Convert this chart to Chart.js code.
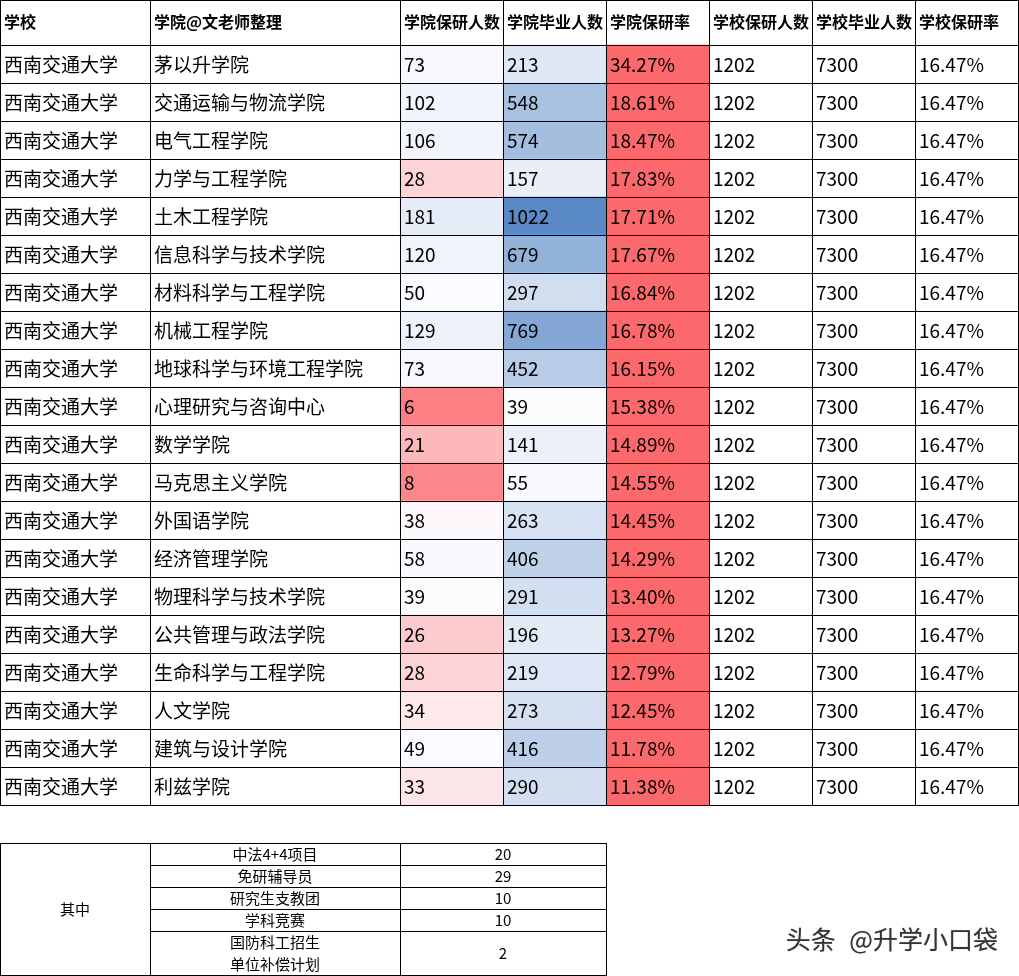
<!DOCTYPE html>
<html>
<head>
<meta charset="utf-8">
<style>
  html, body { margin: 0; padding: 0; background: #fff; }
  canvas { display: block; }
</style>
<script src="https://cdn.jsdelivr.net/npm/chart.js@4"></script>
</head>
<body>
<canvas id="myChart" width="1019" height="976"></canvas>
<script>
// table content
var headers = ['学校', '学院@文老师整理', '学院保研人数', '学院毕业人数', '学院保研率', '学校保研人数', '学校毕业人数', '学校保研率'];
var schoolName = '西南交通大学';
var colleges = ['茅以升学院', '交通运输与物流学院', '电气工程学院', '力学与工程学院', '土木工程学院', '信息科学与技术学院', '材料科学与工程学院', '机械工程学院', '地球科学与环境工程学院', '心理研究与咨询中心', '数学学院', '马克思主义学院', '外国语学院', '经济管理学院', '物理科学与技术学院', '公共管理与政法学院', '生命科学与工程学院', '人文学院', '建筑与设计学院', '利兹学院'];
var recommended = [73, 102, 106, 28, 181, 120, 50, 129, 73, 6, 21, 8, 38, 58, 39, 26, 28, 34, 49, 33];
var graduates = [213, 548, 574, 157, 1022, 679, 297, 769, 452, 39, 141, 55, 263, 406, 291, 196, 219, 273, 416, 290];
var rates = [34.27, 18.61, 18.47, 17.83, 17.71, 17.67, 16.84, 16.78, 16.15, 15.38, 14.89, 14.55, 14.45, 14.29, 13.40, 13.27, 12.79, 12.45, 11.78, 11.38];
var schoolRecommended = 1202;
var schoolGraduates = 7300;
var schoolRate = 16.47;

var extraTitle = '其中';
var extraNames = ['中法4+4项目', '免研辅导员', '研究生支教团', '学科竞赛', ['国防科工招生', '单位补偿计划']];
var extraValues = [20, 29, 10, 10, 2];

// layout of the sheet, in page units
var colEdges = [0, 150, 400, 503, 606, 709, 812, 915, 1018];
var rowEdges = [0, 45];
for (var r = 1; r <= 20; r++) rowEdges.push(45 + 38 * r);
var extraEdges = [843, 865, 887, 909, 931, 975];

var cnFont = '"Noto Sans CJK SC", "Noto Sans", sans-serif';

// the sheet's 3 colour scale: red - near white - blue
function cellColor(v) {
  var mid = 39, top = 1022, c, t;
  var white = [252, 252, 255];
  if (v < mid) { c = [252, 105, 108]; t = (mid - v) / mid; }
  else { c = [90, 138, 198]; t = (v - mid) / (top - mid); }
  return 'rgb(' + c.map(function (k, n) { return Math.round(white[n] + (k - white[n]) * t); }).join(',') + ')';
}

function rowCenter(i) { return (rowEdges[i + 1] + rowEdges[i + 2]) / 2; }

function columnCells(values, col) {
  return values.map(function (v, i) {
    return { x: [colEdges[col], colEdges[col + 1]], y: rowCenter(i) };
  });
}

var tableText = {
  id: 'tableText',
  afterDatasetsDraw: function (chart) {
    var ctx = chart.ctx;
    var xs = chart.scales.x, ys = chart.scales.y;
    var px = function (v) { return Math.round(xs.getPixelForValue(v)); };
    var py = function (v) { return Math.round(ys.getPixelForValue(v)); };

    function hLine(v, a, b) { ctx.fillRect(px(a), py(v), px(b) - px(a) + 1, 1); }
    function vLine(v, a, b) { ctx.fillRect(px(v), py(a), 1, py(b) - py(a) + 1); }
    function label(t, x, y, font, align) {
      ctx.font = font;
      ctx.textAlign = align || 'left';
      ctx.fillText(t, xs.getPixelForValue(x), ys.getPixelForValue(y));
    }

    ctx.save();
    ctx.fillStyle = '#000';
    ctx.textBaseline = 'middle';

    // grid lines
    rowEdges.forEach(function (e) { hLine(e, colEdges[0], colEdges[8]); });
    colEdges.forEach(function (e) { vLine(e, rowEdges[0], rowEdges[21]); });
    extraEdges.forEach(function (e) { hLine(e, colEdges[1], colEdges[4]); });
    hLine(extraEdges[0], colEdges[0], colEdges[1]);
    hLine(extraEdges[5], colEdges[0], colEdges[1]);
    [colEdges[0], colEdges[1], colEdges[2], colEdges[4]].forEach(function (e) {
      vLine(e, extraEdges[0], extraEdges[5]);
    });

    // header
    headers.forEach(function (h, c) {
      label(h, colEdges[c] + 4, 22, 'bold 16px ' + cnFont);
    });

    // body rows
    var bodyFont = '19px ' + cnFont;
    colleges.forEach(function (name, i) {
      var y = rowCenter(i) + 0.5;
      var cells = [schoolName, name, recommended[i], graduates[i], rates[i].toFixed(2) + '%',
        schoolRecommended, schoolGraduates, schoolRate.toFixed(2) + '%'];
      cells.forEach(function (t, c) {
        label(String(t), colEdges[c] + 4, y, bodyFont);
      });
    });

    // lower table
    var smallFont = '15px ' + cnFont;
    var nameX = (colEdges[1] + colEdges[2]) / 2;
    var valueX = (colEdges[2] + colEdges[4]) / 2;
    label(extraTitle, colEdges[1] / 2, (extraEdges[0] + extraEdges[5]) / 2, smallFont, 'center');
    extraNames.forEach(function (n, i) {
      var mid = (extraEdges[i] + extraEdges[i + 1]) / 2;
      if (Array.isArray(n)) {
        label(n[0], nameX, mid - 11, smallFont, 'center');
        label(n[1], nameX, mid + 11, smallFont, 'center');
      } else {
        label(n, nameX, mid, smallFont, 'center');
      }
      label(String(extraValues[i]), valueX, mid, smallFont, 'center');
    });

    // watermark
    ctx.fillStyle = '#333';
    ctx.wordSpacing = '8px';
    ctx.shadowColor = 'rgba(0,0,0,0.35)';
    ctx.shadowBlur = 1;
    label('头条 @升学小口袋', 998, 939, '25px ' + cnFont, 'right');
    ctx.restore();
  }
};

var ctx = document.getElementById('myChart').getContext('2d');
var myChart = new Chart(ctx, {
  type: 'bar',
  data: {
    datasets: [{
      label: headers[2],
      data: columnCells(recommended, 2),
      backgroundColor: recommended.map(cellColor),
      barThickness: 38,
      grouped: false
    }, {
      label: headers[3],
      data: columnCells(graduates, 3),
      backgroundColor: graduates.map(cellColor),
      barThickness: 38,
      grouped: false
    }, {
      label: headers[4],
      data: columnCells(rates, 4),
      backgroundColor: '#fc696c',
      barThickness: 38,
      grouped: false
    }]
  },
  options: {
    indexAxis: 'y',
    responsive: false,
    devicePixelRatio: 1,
    animation: false,
    layout: { padding: 0 },
    plugins: {
      legend: { display: false },
      title: { display: false },
      tooltip: { enabled: false }
    },
    scales: {
      x: { type: 'linear', min: 0, max: 1019, display: false },
      y: { type: 'linear', min: 0, max: 976, reverse: true, display: false, offset: false }
    }
  },
  plugins: [tableText]
});
</script>
</body>
</html>
